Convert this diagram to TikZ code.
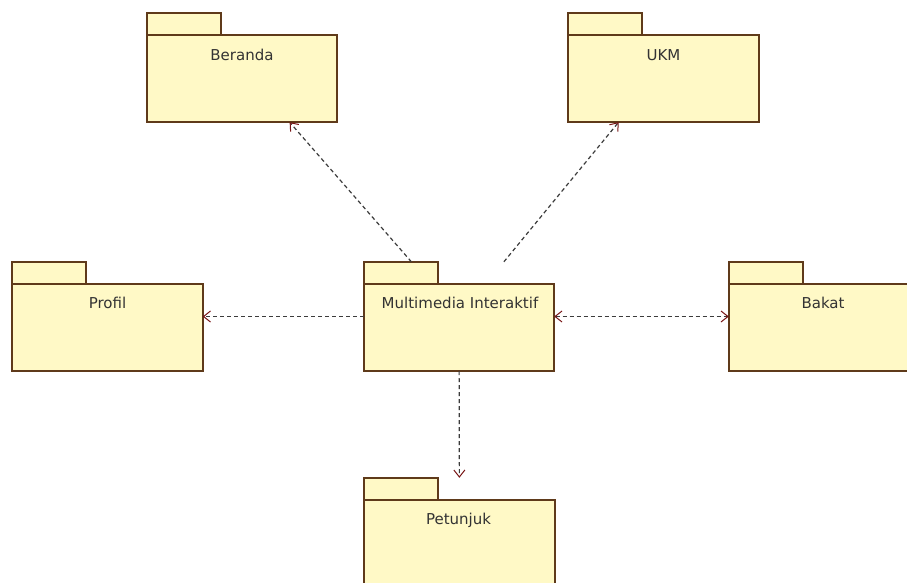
\documentclass[tikz,border=0pt]{standalone}
\usepackage{fontspec}
\setmainfont{DejaVu Sans}
\usetikzlibrary{arrows.meta,calc}
\definecolor{pkgfill}{RGB}{255,249,198}
\definecolor{pkgborder}{RGB}{95,58,26}
\definecolor{depline}{RGB}{60,60,60}
\definecolor{headred}{RGB}{120,20,20}
\tikzset{
  pkg/.style={rectangle, minimum width=190pt, minimum height=109pt, inner sep=0pt, draw=none},
  pkgline/.style={draw=pkgborder, fill=pkgfill, line width=1.8pt},
  pkgtext/.style={font=\fontsize{15}{18}\selectfont, text=black!80, inner sep=0pt},
  barb/.style={Straight Barb[length=7pt, width=11pt, line width=1pt, color=headred]},
  dep/.style={draw=depline, line width=1.2pt, dash pattern=on 4pt off 3pt, -{Straight Barb[length=7pt, width=11pt, line width=1pt, color=headred]}},
  bidep/.style={draw=depline, line width=1.2pt, dash pattern=on 4pt off 3pt,
    {Straight Barb[length=7pt, width=11pt, line width=1pt, color=headred]}-{Straight Barb[length=7pt, width=11pt, line width=1pt, color=headred]}}
}
\begin{document}
\begin{tikzpicture}[x=1pt, y=-1pt]
  \useasboundingbox (0,0) rectangle (907,583);
  \clip (0,0) rectangle (907,583);
  \fill[white] (0,0) rectangle (907,583);

  % package outlines (tab + body), positions of the full box
  \node[pkg] (ber) at (242,67.5) {};
  \node[pkg] (ukm) at (663.5,67.5) {};
  \node[pkg] (pro) at (107.5,316.5) {};
  \node[pkg] (mm)  at (459,316.5) {};
  \node[pkg] (bak) at (824,316.5) {};
  \node[pkg] (pet) at (459.5,532.5) {};

  \foreach \n in {ber,ukm,pro,mm,bak,pet} {
    \draw[pkgline] (\n.north west) rectangle ++(74,22);
    \draw[pkgline] ($(\n.north west)+(0,22)$) rectangle (\n.south east);
  }

  % package names
  \node[pkgtext] (berT) at ($(ber.north)+(0,42)$) {Beranda};
  \node[pkgtext] (ukmT) at ($(ukm.north)+(0,42)$) {UKM};
  \node[pkgtext] (proT) at ($(pro.north)+(0,41)$) {Profil};
  \node[pkgtext] (mmT)  at ($(mm.north)+(1,41)$) {Multimedia Interaktif};
  \node[pkgtext] (bakT) at ($(bak.north)+(-1,41)$) {Bakat};
  \node[pkgtext] (petT) at ($(pet.north)+(-1,43)$) {Petunjuk};

  % dependencies
  \draw[dep] (mm) -- (ber);
  \draw[dep] (mm) -- (ukm);
  \draw[dep] (mm) -- (pro);
  \draw[bidep] (mm) -- (bak);
  \draw[dep] (mm) -- (pet);
\end{tikzpicture}
\end{document}
